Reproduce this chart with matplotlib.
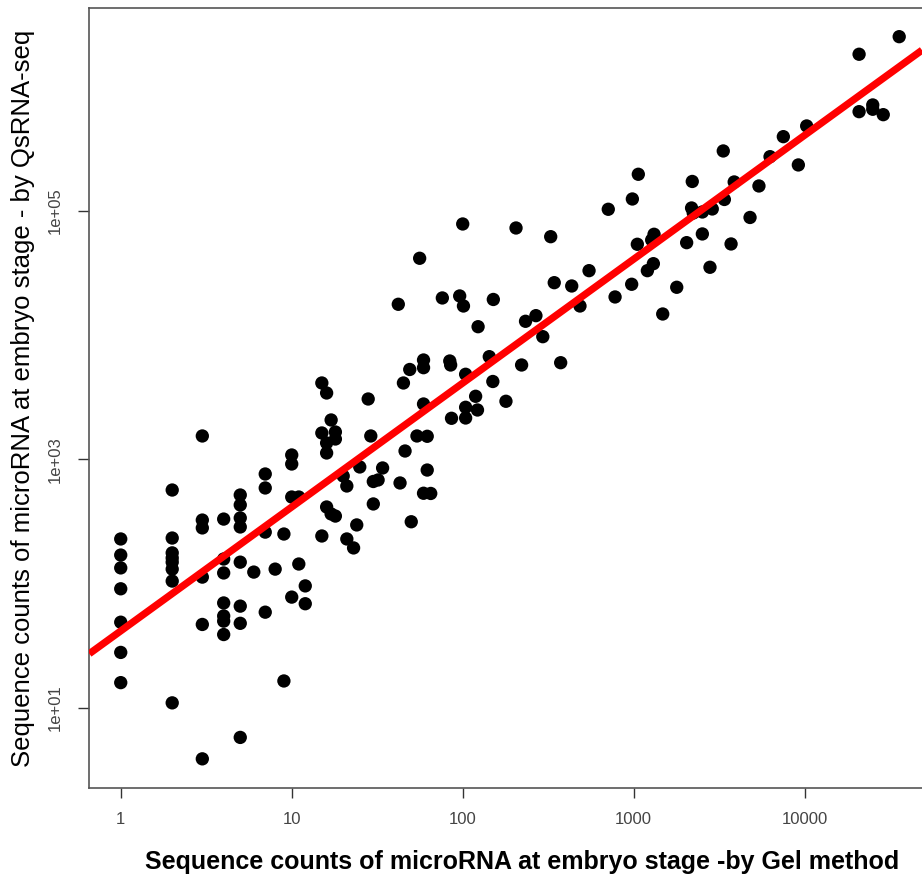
import numpy as np
import matplotlib
matplotlib.use('Agg')
import matplotlib.pyplot as plt
from matplotlib.ticker import NullLocator

# sequence counts (x: Gel method, y: QsRNA-seq)
gel_counts = [
    1, 1, 1, 1, 1, 1, 1,
    2, 2, 2, 2, 2, 2, 2, 2,
    3, 3, 3, 3, 3, 3,
    4, 4, 4, 4, 4, 4, 4,
    5, 5, 5, 5, 5, 5, 5, 5,
    6, 7, 7, 7, 7, 8, 9, 9,
    10, 10, 10, 10, 11, 11, 12, 12,
    15, 15, 15, 16, 16, 16, 16, 17, 17, 18, 18, 18,
    20, 21, 21, 23, 24, 25, 28, 29, 30, 30, 32, 34,
    42, 43, 45, 46, 49, 50, 54, 56, 59, 59, 59, 59, 62, 62, 65,
    76, 84, 85, 86, 96, 100, 101, 104, 104, 104,
    119, 122, 123, 143, 150, 151, 179, 205, 221, 233, 268, 294,
    327, 343, 374, 434, 485, 548, 710, 778, 973, 982,
    1050, 1064, 1202, 1274, 1303, 1315, 1478, 1785, 2040, 2180, 2200, 2230,
    2520, 2520, 2880, 2793, 3340, 3390, 3710, 3870, 4790, 5400, 6270, 7500,
    9180, 10270, 20800, 20800, 25000, 25000, 28800, 35700,
]
qsrna_counts = [
    229, 170, 134, 91, 49, 28, 16,
    567, 233, 177, 161, 149, 131, 105, 11,
    1543, 325, 281, 113, 47, 3.9,
    331, 158, 122, 70, 55, 50, 39,
    517, 430, 338, 286, 149, 66, 48, 5.8,
    124, 763, 589, 260, 59, 131, 251, 16.5,
    1085, 918, 498, 78, 498, 144, 96, 69,
    4118, 1631, 242, 3421, 1355, 1126, 414, 2075, 364, 1661, 1459, 350,
    735, 611, 229, 194, 297, 869, 3061, 1543, 664, 438, 683, 853,
    17690, 646, 4118, 1168, 5287, 315, 1543, 41480, 6303, 5467, 2790, 534, 1534, 821, 532,
    19890, 6187, 5746, 2141, 20640, 78300, 17140, 4838, 2625, 2153,
    3218, 2497, 11680, 6705, 4233, 19340, 2934, 72700, 5746, 12910, 14330, 9708,
    61880, 26400, 5995, 24830, 17140, 32980, 102800, 20260, 25630, 124400,
    53760, 196600, 32980, 58230, 37530, 64700, 14780, 24240, 55400, 105300, 172100, 96000,
    97800, 65100, 103400, 35110, 302800, 123300, 54070, 170500, 88340, 158300, 272400, 394700,
    233700, 481100, 1816000, 627000, 710000, 655500, 593100, 2515000,
]

# fitted line in log10 space
fit_intercept = 1.62
fit_slope = 0.997

x_ticks = [1, 10, 100, 1000, 10000]
x_tick_labels = ['1', '10', '100', '1000', '10000']
y_ticks = [1e1, 1e3, 1e5]
y_tick_labels = ['1e+01', '1e+03', '1e+05']

plt.rcParams['font.family'] = ['Liberation Sans', 'DejaVu Sans']

fig = plt.figure(figsize=(9.22, 8.8), dpi=100)
ax = fig.add_axes([0.0969, 0.1049, 0.9031, 0.8857])
ax.set_xscale('log')
ax.set_yscale('log')

xlim = (10 ** -0.1836, 10 ** 4.686)
ylim = (10 ** 0.359, 10 ** 6.629)

ax.scatter(gel_counts, qsrna_counts, s=92, c='black', edgecolors='none', zorder=3)

xs = np.array(xlim)
ax.plot(xs, 10 ** (fit_intercept + fit_slope * np.log10(xs)), color='red', lw=5.2,
        solid_capstyle='butt', zorder=4)

ax.set_xlim(xlim)
ax.set_ylim(ylim)

ax.set_xticks(x_ticks, labels=x_tick_labels)
ax.set_yticks(y_ticks, labels=y_tick_labels)
ax.xaxis.set_minor_locator(NullLocator())
ax.yaxis.set_minor_locator(NullLocator())

ax.tick_params(axis='x', length=7.5, width=1, pad=10, labelsize=12, labelcolor='#444444',
               color='#333333')
ax.tick_params(axis='y', length=8, width=1, pad=11, labelsize=12, labelcolor='#444444',
               color='#333333')
for lab in ax.get_yticklabels():
    lab.set_rotation(90)
    lab.set_va('center')

for side in ['top', 'left', 'bottom']:
    ax.spines[side].set_color('#555555')
    ax.spines[side].set_linewidth(1.2)
ax.spines['right'].set_visible(False)

ax.set_xlabel('Sequence counts of microRNA at embryo stage -by Gel method',
              fontsize=18, fontweight='bold')
ax.xaxis.set_label_coords(0.52, -0.08)
ax.set_ylabel('Sequence counts of microRNA at embryo stage - by QsRNA-seq',
              fontsize=18.5)
ax.yaxis.set_label_coords(-0.065, 0.5)

fig.savefig('out.png', dpi=100)
